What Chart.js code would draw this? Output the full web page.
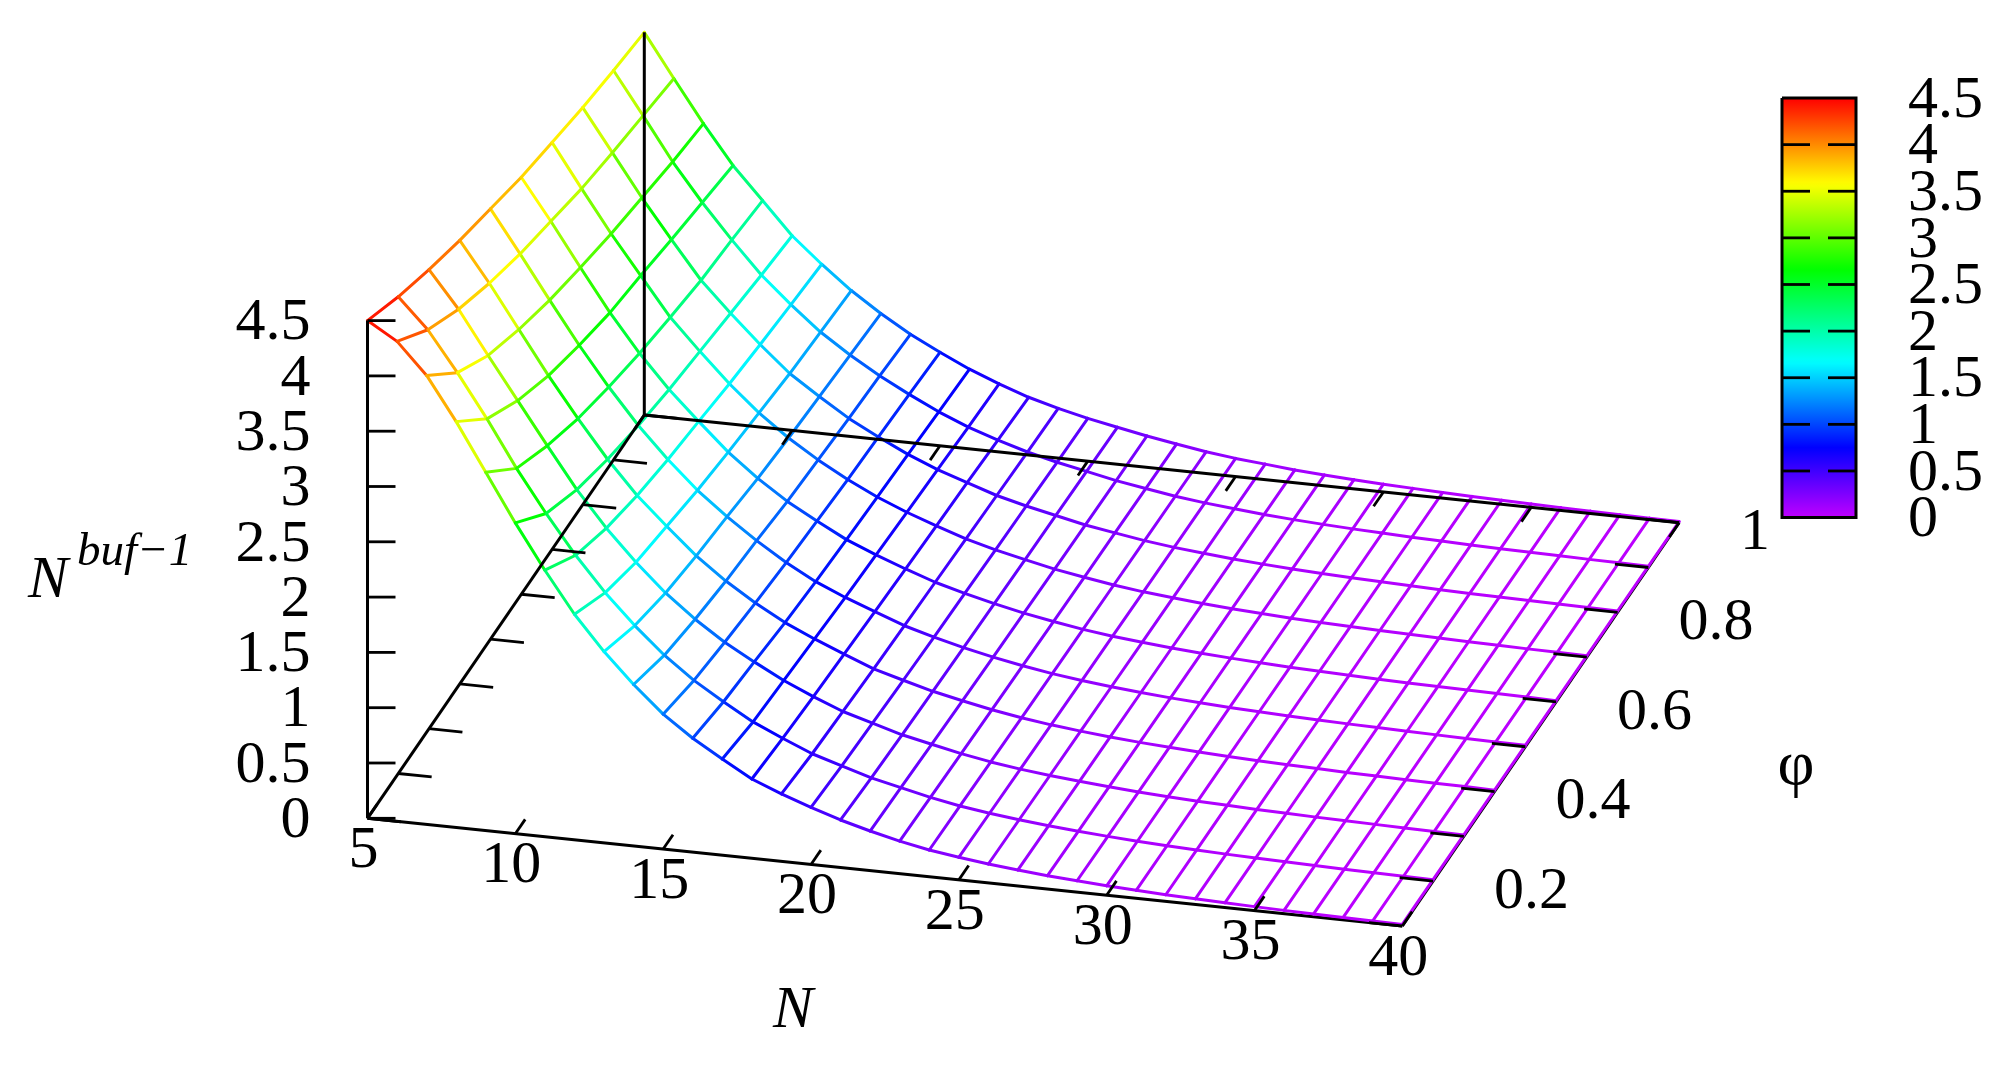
<!DOCTYPE html>
<html><head><meta charset="utf-8">
<style>html,body{margin:0;padding:0;background:#fff}canvas{display:block}</style>
<script src="https://cdn.jsdelivr.net/npm/chart.js@4"></script>
</head><body><canvas id="c" width="2012" height="1066"></canvas>
<script>
const nValues=[5,6,7,8,9,10,11,12,13,14,15,16,17,18,19,20,21,22,23,24,25,26,27,28,29,30,31,32,33,34,35,36,37,38,39,40];
const phiValues=[0.1,0.2,0.3,0.4,0.5,0.6,0.7,0.8,0.9,1];
// one row per N, one column per phi
const surfaceZ=[
[4.50,4.31,4.15,4.01,3.89,3.77,3.68,3.59,3.52,3.46],
[4.34,4.04,3.82,3.65,3.51,3.40,3.29,3.21,3.14,3.07],
[4.06,3.68,3.43,3.26,3.12,3.01,2.91,2.83,2.75,2.69],
[3.67,3.29,3.05,2.87,2.74,2.63,2.56,2.48,2.41,2.34],
[3.24,2.87,2.67,2.51,2.39,2.29,2.21,2.14,2.10,2.05],
[2.81,2.49,2.30,2.17,2.07,1.99,1.93,1.87,1.81,1.76],
[2.41,2.14,1.98,1.87,1.79,1.73,1.665,1.615,1.57,1.53],
[2.04,1.83,1.70,1.62,1.54,1.48,1.43,1.38,1.35,1.32],
[1.73,1.56,1.45,1.38,1.33,1.27,1.23,1.20,1.17,1.14],
[1.46,1.32,1.24,1.18,1.14,1.09,1.06,1.03,1.01,.98],
[1.22,1.12,1.06,1.01,.97,.94,.91,.89,.87,.845],
[1.03,.955,.91,.86,.825,.80,.78,.76,.74,.72],
[.87,.80,.77,.74,.71,.69,.67,.65,.63,.615],
[.717,.68,.651,.63,.609,.59,.575,.56,.54,.522],
[.61,.568,.545,.525,.51,.498,.485,.472,.46,.449],
[.517,.486,.467,.45,.435,.425,.413,.405,.395,.387],
[.43,.405,.39,.378,.368,.36,.353,.347,.34,.334],
[.358,.345,.332,.32,.31,.302,.295,.289,.285,.283],
[.295,.285,.275,.267,.26,.254,.249,.245,.241,.238],
[.242,.235,.228,.222,.216,.211,.207,.203,.199,.196],
[.204,.197,.191,.186,.181,.177,.173,.17,.167,.164],
[.171,.166,.161,.157,.153,.15,.147,.144,.142,.14],
[.145,.14,.136,.132,.129,.126,.123,.12,.117,.114],
[.121,.117,.114,.111,.108,.106,.104,.102,.099,.097],
[.103,.099,.096,.094,.092,.09,.088,.086,.084,.082],
[.085,.083,.081,.079,.077,.076,.074,.073,.071,.07],
[.072,.07,.068,.067,.066,.064,.063,.062,.061,.06],
[.06,.059,.058,.057,.056,.055,.054,.053,.051,.05],
[.051,.05,.049,.048,.047,.046,.046,.045,.044,.043],
[.043,.042,.042,.041,.04,.039,.039,.038,.037,.036],
[.036,.036,.035,.034,.034,.033,.033,.032,.031,.03],
[.03,.03,.03,.029,.029,.028,.028,.027,.026,.025],
[.026,.025,.025,.024,.024,.024,.023,.023,.022,.021],
[.022,.021,.021,.02,.02,.02,.019,.019,.018,.017],
[.018,.017,.017,.017,.016,.016,.016,.015,.015,.013],
[.014,.014,.013,.013,.013,.012,.012,.012,.011,.01]
];
const zTicks=[0,0.5,1,1.5,2,2.5,3,3.5,4,4.5];
const zTickLabels=['0','0.5','1','1.5','2','2.5','3','3.5','4','4.5'];
const nTicks=[5,10,15,20,25,30,35,40];
const phiTicks=[0.1,0.2,0.3,0.4,0.5,0.6,0.7,0.8,0.9,1];
const phiLabelTicks=[0.2,0.4,0.6,0.8,1];
const phiTickLabels=['0.2','0.4','0.6','0.8','1'];
const paletteValues=[0,0.75,1.67,2.66,3.58,4.5];
const paletteHues=[285,240,180,120,60,0];

// orthographic projection of the 3-D box onto the chart's x/y scales
const NMIN=5,NMAX=40,PMIN=0.1,PMAX=1;
const O={x:367.5,y:818.3},EN={x:1034.8,y:107.7},EP={x:276.8,y:-403.3},ZU=110.6;
function proj(n,p,z){
  const a=(n-NMIN)/(NMAX-NMIN),b=(p-PMIN)/(PMAX-PMIN);
  return {x:O.x+a*EN.x+b*EP.x,y:O.y+a*EN.y+b*EP.y-z*ZU};
}
function hueAt(z){
  for(let i=1;i<paletteValues.length;i++){
    if(z<=paletteValues[i]){
      const t=(z-paletteValues[i-1])/(paletteValues[i]-paletteValues[i-1]);
      return paletteHues[i-1]+t*(paletteHues[i]-paletteHues[i-1]);
    }
  }
  return 0;
}
const colorAt=z=>`hsl(${Math.max(hueAt(Math.max(z,0)),0)},100%,50%)`;

function meshLine(points,zs){
  return {data:points,order:2,borderWidth:3,pointRadius:0,borderColor:colorAt(zs[0]),fill:false,showLine:true,
    borderJoinStyle:'round',borderCapStyle:'round',
    segment:{borderColor:ctx=>colorAt((zs[ctx.p0DataIndex]+zs[ctx.p1DataIndex])/2)}};
}
function blackLine(points,order,w){
  return {data:points,order:order,borderWidth:w||3,pointRadius:0,borderColor:'#000',showLine:true,fill:false};
}
const datasets=[];
// axes under the mesh
datasets.push(blackLine([proj(NMIN,PMIN,0),proj(NMAX,PMIN,0)],3,3));
datasets.push(blackLine([proj(NMAX,PMIN,0),proj(NMAX,PMAX,0)],3,3));
// mesh: lines of constant N
nValues.forEach((n,i)=>{
  datasets.push(meshLine(phiValues.map((p,j)=>proj(n,p,surfaceZ[i][j])),surfaceZ[i]));
});
// mesh: lines of constant phi
phiValues.forEach((p,j)=>{
  const zs=surfaceZ.map(r=>r[j]);
  datasets.push(meshLine(nValues.map((n,i)=>proj(n,p,zs[i])),zs));
});
// axes above the mesh
datasets.push(blackLine([proj(NMIN,PMIN,0),proj(NMIN,PMIN,4.5)],1,3));
datasets.push(blackLine([proj(NMIN,PMAX,0),proj(NMIN,PMAX,3.46)],1,3));
datasets.push(blackLine([proj(NMIN,PMIN,0),proj(NMIN,PMAX,0)],1,3));
datasets.push(blackLine([proj(NMIN,PMAX,0),proj(NMAX,PMAX,0)],1,3));
// ticks
const TICK=2.8;
zTicks.forEach(z=>{const a=proj(NMIN,PMIN,z);datasets.push(blackLine([a,{x:a.x+28,y:a.y}],1,TICK));});
nTicks.forEach(n=>{
  datasets.push(blackLine([proj(n,PMIN,0),proj(n,PMIN+0.032,0)],1,TICK));
  datasets.push(blackLine([proj(n,PMAX,0),proj(n,PMAX-0.032,0)],1,TICK));
});
phiTicks.forEach(p=>{
  datasets.push(blackLine([proj(NMIN,p,0),proj(NMIN+1.13,p,0)],1,TICK));
  datasets.push(blackLine([proj(NMAX,p,0),proj(NMAX-1.13,p,0)],1,TICK));
});
// colour box frame and ticks, on the same pixel-valued scales
const CB={l:1782,r:1856,b:517.6,t:98};
const cbY=z=>CB.b+(CB.t-CB.b)*z/4.5;
datasets.push(blackLine([{x:CB.l,y:CB.t},{x:CB.r,y:CB.t},{x:CB.r,y:CB.b},{x:CB.l,y:CB.b},{x:CB.l,y:CB.t}],0,3));
zTicks.slice(1,-1).forEach(z=>{
  datasets.push(blackLine([{x:CB.l,y:cbY(z)},{x:CB.l+28,y:cbY(z)}],0,2.8));
  datasets.push(blackLine([{x:CB.r-28,y:cbY(z)},{x:CB.r,y:cbY(z)}],0,2.8));
});

const SERIF='"Liberation Serif"';
const FS=60;
const textPlugin={
  id:'textPlugin',
  beforeDatasetsDraw(chart){
    const ctx=chart.ctx,xs=chart.scales.x,ys=chart.scales.y;
    const top=ys.getPixelForValue(CB.t),bot=ys.getPixelForValue(CB.b);
    const g=ctx.createLinearGradient(0,bot,0,top);
    for(let i=0;i<=90;i++){const z=4.5*i/90;g.addColorStop(i/90,colorAt(z));}
    ctx.save();ctx.fillStyle=g;
    ctx.fillRect(xs.getPixelForValue(CB.l),top,xs.getPixelForValue(CB.r)-xs.getPixelForValue(CB.l),bot-top);
    ctx.restore();
  },
  afterDatasetsDraw(chart){
    const ctx=chart.ctx,xs=chart.scales.x,ys=chart.scales.y;
    const put=(s,x,y,al,font,bl)=>{
      ctx.font=font;ctx.textAlign=al;ctx.textBaseline=bl||'middle';ctx.fillStyle='#000';
      ctx.fillText(s,xs.getPixelForValue(x),ys.getPixelForValue(y));
    };
    const f=`${FS}px ${SERIF}`,fi=`italic ${FS}px ${SERIF}`;
    ctx.save();
    zTicks.forEach((z,i)=>{
      const a=proj(NMIN,PMIN,z);
      put(zTickLabels[i],a.x-57,a.y+3,'right',f);
      put(zTickLabels[i],1908,cbY(z)+3,'left',f);
    });
    nTicks.forEach(n=>{const a=proj(n,PMIN,0);put(String(n),a.x-4,a.y+33,'center',f);});
    phiLabelTicks.forEach((p,i)=>{const a=proj(NMAX,p,0);put(phiTickLabels[i],a.x+61,a.y+11,'left',f);});
    put('N',793,1011,'center',fi);
    put('φ',1796,767,'center',`${FS+4}px ${SERIF}`);
    put('N',28,597,'left',fi,'alphabetic');
    put('buf−1',77,565,'left',`italic 47px ${SERIF}`,'alphabetic');
    ctx.restore();
  }
};
new Chart(document.getElementById('c').getContext('2d'),{
  type:'scatter',
  data:{datasets},
  plugins:[textPlugin],
  options:{
    responsive:false,animation:false,devicePixelRatio:1,
    layout:{padding:0},
    plugins:{legend:{display:false},tooltip:{enabled:false},title:{display:false}},
    elements:{line:{tension:0}},
    datasets:{scatter:{clip:false}},
    scales:{
      x:{type:'linear',display:false,min:0,max:2012},
      y:{type:'linear',display:false,min:0,max:1066,reverse:true}
    }
  }
});
</script></body></html>
